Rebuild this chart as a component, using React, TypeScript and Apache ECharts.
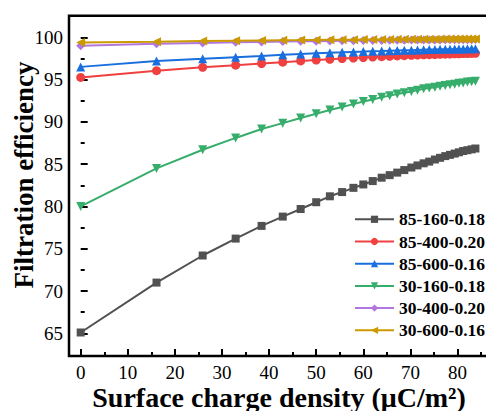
import React, { useEffect, useRef } from "react";
import * as echarts from "echarts";

const xValues = [0, 16.1, 25.9, 32.9, 38.4, 42.9, 46.7, 50.0, 52.9, 55.5, 57.9, 60.0, 62.0, 63.9, 65.6, 67.2, 68.7, 70.2, 71.5, 72.8, 74.0, 75.2, 76.3, 77.4, 78.4, 79.4, 80.3, 81.2, 82.1, 83.0, 83.8];

const s85_160 = [65.1, 71.0, 74.2, 76.2, 77.7, 78.8, 79.7, 80.5, 81.2, 81.7, 82.2, 82.6, 83.0, 83.4, 83.7, 84.0, 84.3, 84.6, 84.85, 85.1, 85.3, 85.55, 85.75, 85.95, 86.1, 86.25, 86.4, 86.55, 86.65, 86.75, 86.85];
const s85_400 = [95.25, 96.05, 96.45, 96.7, 96.9, 97.05, 97.2, 97.3, 97.4, 97.48, 97.55, 97.6, 97.66, 97.71, 97.75, 97.79, 97.83, 97.86, 97.89, 97.92, 97.94, 97.96, 97.98, 98.0, 98.02, 98.04, 98.05, 98.07, 98.08, 98.09, 98.1];
const s85_600 = [96.5, 97.2, 97.45, 97.65, 97.8, 97.93, 98.02, 98.1, 98.17, 98.22, 98.27, 98.31, 98.35, 98.38, 98.41, 98.44, 98.46, 98.48, 98.5, 98.52, 98.54, 98.55, 98.57, 98.58, 98.59, 98.6, 98.61, 98.62, 98.63, 98.64, 98.65];
const s30_160 = [80.0, 84.5, 86.7, 88.1, 89.15, 89.85, 90.45, 90.95, 91.4, 91.75, 92.1, 92.4, 92.65, 92.9, 93.1, 93.3, 93.45, 93.6, 93.75, 93.9, 94.0, 94.1, 94.2, 94.3, 94.4, 94.45, 94.55, 94.6, 94.7, 94.75, 94.8];
const s30_400 = [99.0, 99.22, 99.33, 99.4, 99.45, 99.49, 99.52, 99.54, 99.56, 99.58, 99.6, 99.61, 99.62, 99.63, 99.64, 99.65, 99.66, 99.67, 99.67, 99.68, 99.68, 99.69, 99.69, 99.7, 99.7, 99.71, 99.71, 99.72, 99.72, 99.72, 99.73];
const s30_600 = [99.38, 99.48, 99.55, 99.6, 99.63, 99.65, 99.67, 99.69, 99.7, 99.71, 99.72, 99.73, 99.74, 99.75, 99.75, 99.76, 99.76, 99.77, 99.77, 99.78, 99.78, 99.78, 99.79, 99.79, 99.79, 99.8, 99.8, 99.8, 99.8, 99.81, 99.81];

const seriesNames = ["85-160-0.18", "85-400-0.20", "85-600-0.16", "30-160-0.18", "30-400-0.20", "30-600-0.16"];
const seriesValues = [s85_160, s85_400, s85_600, s30_160, s30_400, s30_600];
const seriesColors = ["#515151", "#F14040", "#1A6FDF", "#37AD6B", "#B177DE", "#CC9900"];
const seriesSymbols = ["rect", "circle", "triangle", "triangle", "diamond", "triangle"];
const seriesRotate = [0, 0, 0, 180, 0, 90];
const seriesSymbolSize = [8, 9, 9, 9, 9, 9];

const xTickLabels = [0, 10, 20, 30, 40, 50, 60, 70, 80];
const xTitle = "Surface charge density (μC/m²)";
const yTitle = "Filtration efficiency";

const SERIF = "'Liberation Serif', 'Times New Roman', serif";

export default function App() {
  const ref = useRef<HTMLDivElement>(null);
  useEffect(() => {
    if (!ref.current) return;
    const chart = echarts.init(ref.current, undefined, { renderer: "svg" });
    const series = seriesNames.map((name, i) => ({
      name,
      type: "line",
      xAxisIndex: 0,
      yAxisIndex: 0,
      data: xValues.map((x, j) => [x, seriesValues[i][j]]),
      symbol: seriesSymbols[i],
      symbolRotate: seriesRotate[i],
      symbolSize: seriesSymbolSize[i],
      showAllSymbol: true,
      lineStyle: { color: seriesColors[i], width: 2 },
      itemStyle: { color: seriesColors[i] },
      z: 2 + i,
    }));
    chart.setOption({
      animation: false,
      backgroundColor: "#ffffff",
      grid: [
        {
          left: 69,
          top: 15.7,
          bottom: 55,
          right: -9.2,
          show: true,
          borderColor: "#000",
          borderWidth: 2.5,
          backgroundColor: "transparent",
          containLabel: false,
          outerBoundsMode: "none",
        },
        {
          left: 80.7,
          top: 37.3,
          bottom: 77.7,
          right: -18.6,
          show: false,
          containLabel: false,
          outerBoundsMode: "none",
        },
      ],
      xAxis: [
        { type: "value", gridIndex: 0, min: -2.48, max: 88, show: false },
        {
          type: "value",
          gridIndex: 1,
          min: 0,
          max: 90,
          interval: 10,
          position: "bottom",
          offset: 22.7,
          axisLine: { show: false },
          axisTick: { show: true, inside: true, length: 7, lineStyle: { color: "#000", width: 2 } },
          minorTick: { show: true, splitNumber: 2, length: 4, lineStyle: { color: "#000", width: 2 } },
          splitLine: { show: false },
          minorSplitLine: { show: false },
          axisLabel: {
            color: "#000",
            fontSize: 19,
            fontFamily: SERIF,
            margin: 7,
            lineHeight: 19,
            showMaxLabel: false,
            formatter: (v: number) => (xTickLabels.indexOf(v) >= 0 ? String(v) : ""),
          },
        },
      ],
      yAxis: [
        { type: "value", gridIndex: 0, min: 62.32, max: 102.55, show: false },
        {
          type: "value",
          gridIndex: 1,
          min: 65,
          max: 100,
          interval: 5,
          position: "left",
          offset: 11.7,
          axisLine: { show: false },
          axisTick: { show: true, inside: true, length: 7, lineStyle: { color: "#000", width: 2 } },
          minorTick: { show: true, splitNumber: 2, length: 4, lineStyle: { color: "#000", width: 2 } },
          splitLine: { show: false },
          minorSplitLine: { show: false },
          axisLabel: { color: "#000", fontSize: 19, fontFamily: SERIF, margin: 6 },
        },
      ],
      legend: {
        orient: "vertical",
        left: 349,
        top: 205.3,
        itemWidth: 39,
        itemHeight: 9,
        itemGap: 4.2,
        data: seriesNames,
        textStyle: {
          color: "#000",
          fontSize: 17.5,
          fontWeight: "bold",
          fontFamily: SERIF,
          lineHeight: 18,
        },
      },
      graphic: [
        {
          type: "text",
          x: 24,
          y: 175,
          rotation: Math.PI / 2,
          style: {
            text: yTitle,
            fill: "#000",
            font: `bold 27px ${SERIF}`,
            align: "center",
            verticalAlign: "middle",
          },
        },
        {
          type: "text",
          x: 279,
          y: 397,
          style: {
            text: xTitle,
            fill: "#000",
            font: `bold 28px ${SERIF}`,
            lineHeight: 22,
            align: "center",
            verticalAlign: "middle",
          },
        },
      ],
      series,
    });
    return () => chart.dispose();
  }, []);
  return (
    <div
      ref={ref}
      style={{ position: "fixed", left: 0, top: 0, width: 486, height: 411, background: "#fff" }}
    />
  );
}
